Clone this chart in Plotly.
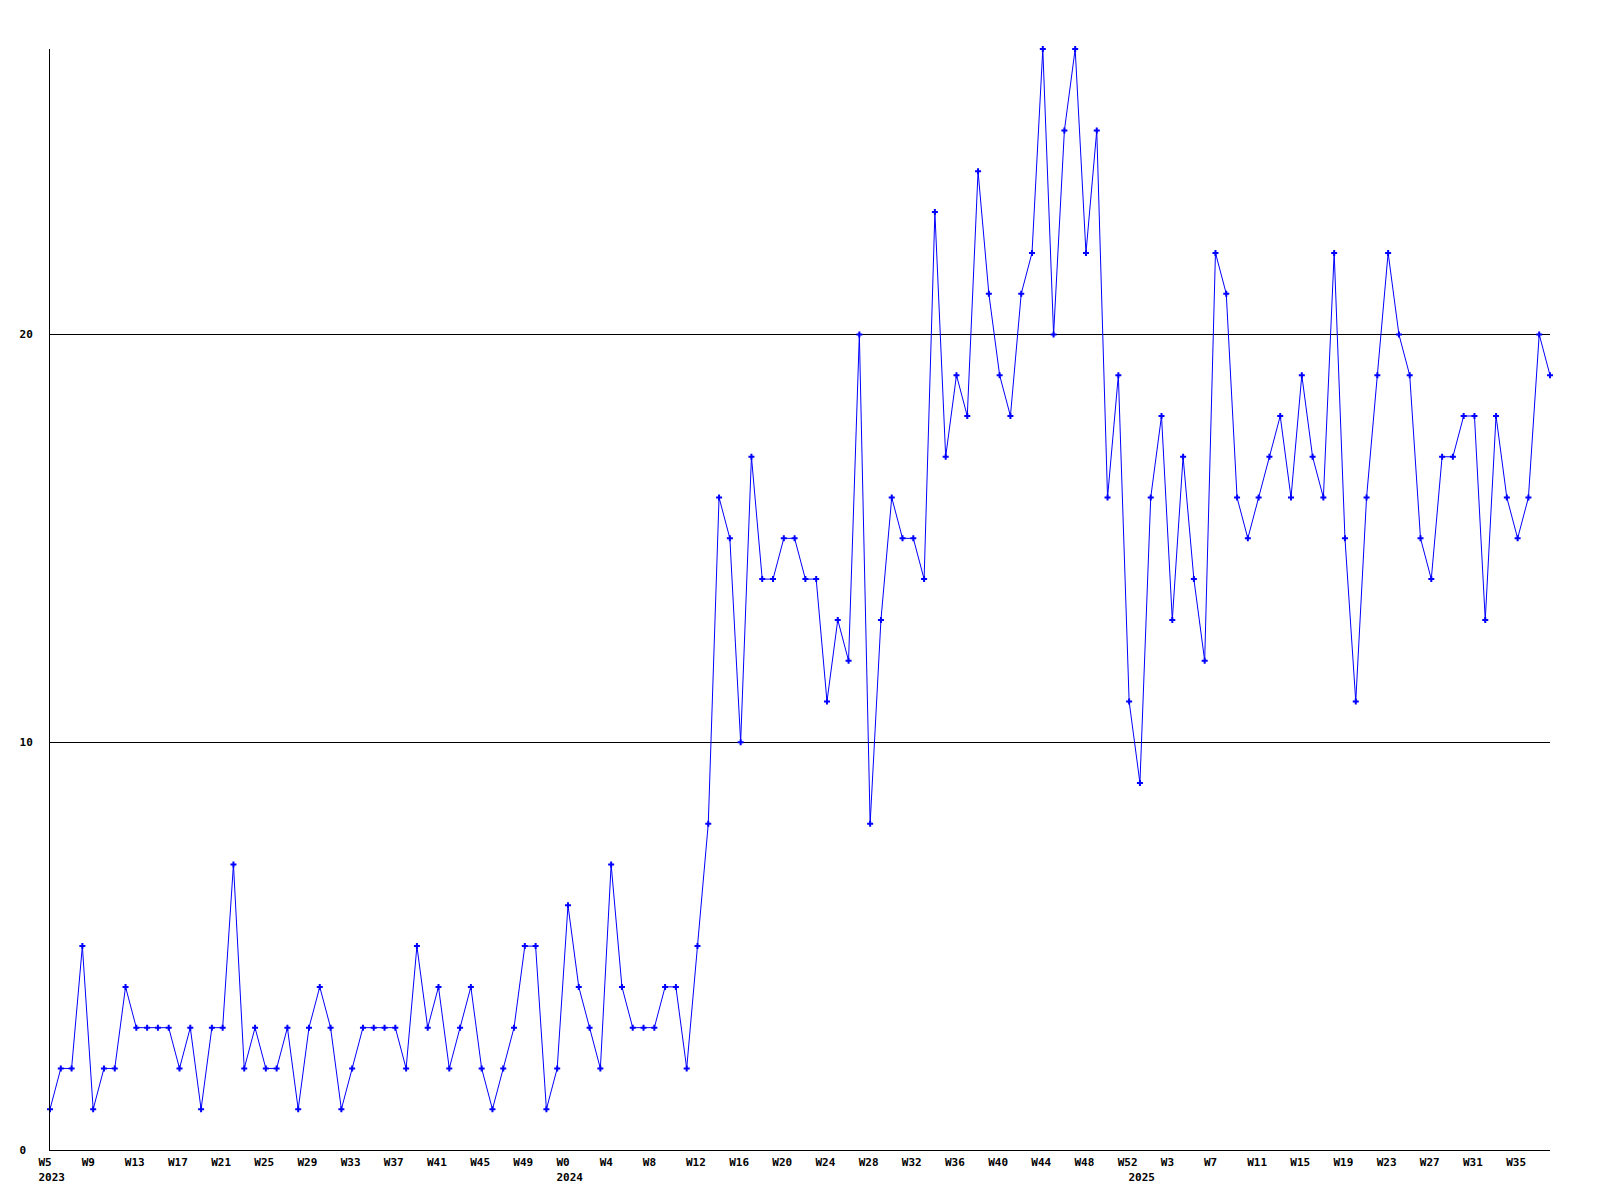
import plotly.graph_objects as go

# ---- data -------------------------------------------------------------
# weekly series, W5 2023 .. W38 2025
year_week_ranges = [(2023, 5, 52), (2024, 0, 52), (2025, 0, 38)]

values = [
    1, 2, 2, 5, 1, 2, 2, 4, 3, 3, 3, 3, 2, 3, 1, 3, 3, 7, 2, 3,
    2, 2, 3, 1, 3, 4, 3, 1, 2, 3, 3, 3, 3, 2, 5, 3, 4, 2,
    3, 4, 2, 1, 2, 3, 5, 5, 1, 2, 6, 4, 3, 2, 7, 4, 3, 3, 3, 4, 4, 2, 5, 8,
    16, 15, 10, 17, 14, 14, 15, 15, 14, 14, 11, 13, 12, 20, 8, 13, 16, 15, 15,
    14, 23, 17, 19, 18, 24, 21, 19, 18, 21, 22, 27, 20, 25, 27, 22, 25, 16, 19, 11, 9,
    16, 18, 13, 17, 14, 12, 22, 21, 16, 15, 16, 17, 18, 16, 19, 17, 16, 22, 15, 11,
    16, 19, 22, 20, 19, 15, 14, 17, 17, 18, 18, 13, 18, 16, 15, 16, 20, 19,
]

y_tick_values = [0, 10, 20]
y_tick_labels = ["0\u00a0", "10", "20"]

# ---- build categories / tick labels ----------------------------------
years = []
weeks = []
for yr, w0, w1 in year_week_ranges:
    for w in range(w0, w1 + 1):
        years.append(yr)
        weeks.append(w)

positions = list(range(len(values)))

tickvals = []
ticktext = []
seen_years = set()
for i, (yr, wk) in enumerate(zip(years, weeks)):
    first_of_year = yr not in seen_years
    seen_years.add(yr)
    if i % 4 == 0:
        txt = f"W{wk}"
        if first_of_year:
            txt += f"<br>{yr}"
        tickvals.append(i)
        ticktext.append(txt)
    elif first_of_year:
        tickvals.append(i)
        ticktext.append(f"<br>{yr}")

BLUE = "#0000ff"
FONT = dict(family="DejaVu Sans Mono", size=11, color="black", weight="bold")

fig = go.Figure()
fig.add_trace(go.Scatter(
    x=positions, y=values, mode="lines+markers",
    line=dict(color=BLUE, width=1),
    marker=dict(symbol="cross", size=5, color=BLUE),
    cliponaxis=False, hoverinfo="skip",
))

fig.update_layout(
    width=1584, height=1184,
    margin=dict(l=42, r=42, t=41, b=42, pad=0),
    paper_bgcolor="white", plot_bgcolor="white",
    showlegend=False,
    xaxis=dict(
        range=[0, len(values) - 1], showline=True, linecolor="black", linewidth=1,
        showgrid=False, zeroline=False, ticks="",
        tickmode="array", tickvals=tickvals, ticktext=ticktext,
        tickangle=0, ticklabelposition="outside right", ticklabelshift=-12,
        ticklabelstandoff=2,
        tickfont=FONT, automargin=False,
    ),
    yaxis=dict(
        range=[0, 27], showline=True, linecolor="black", linewidth=1,
        showgrid=True, gridcolor="black", gridwidth=1, zeroline=False, ticks="",
        tickmode="array", tickvals=y_tick_values, ticktext=y_tick_labels,
        tickfont=FONT, ticklabelstandoff=14, automargin=False,
    ),
)

fig.write_html("out.html")
